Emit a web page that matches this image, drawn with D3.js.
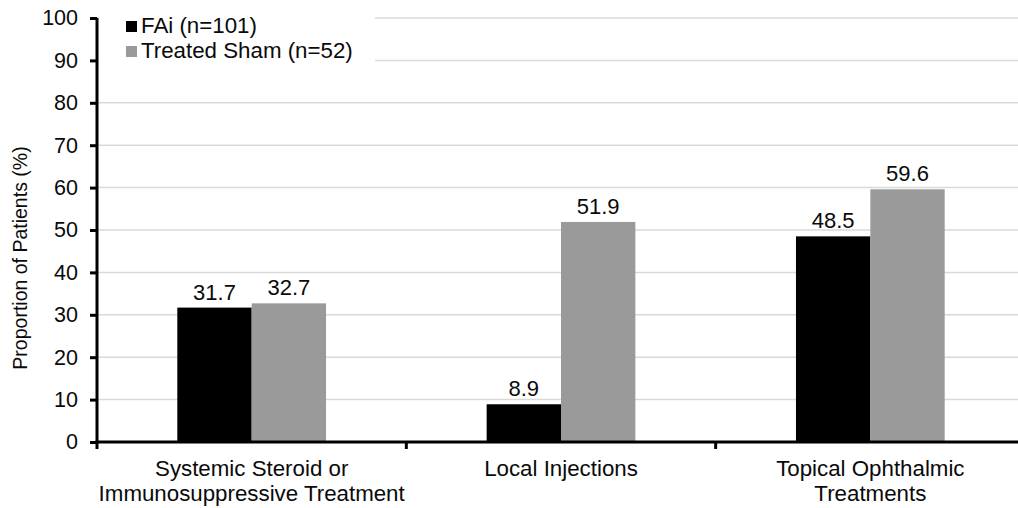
<!DOCTYPE html>
<html>
<head>
<meta charset="utf-8">
<script src="https://cdn.jsdelivr.net/npm/d3@7"></script>
<style>
  html, body { margin: 0; padding: 0; background: #fff; }
  svg { display: block; font-family: Arial, "Liberation Sans", sans-serif; }
</style>
</head>
<body>
<svg id="chart" width="1018" height="508"></svg>
<script>
// Treatment categories (two-line labels) and the percentage of patients per arm
const categories = ["Systemic Steroid or\nImmunosuppressive Treatment", "Local Injections", "Topical Ophthalmic\nTreatments"];
const seriesNames = ["FAi (n=101)", "Treated Sham (n=52)"];
const faiValues = [31.7, 8.9, 48.5];
const shamValues = [32.7, 51.9, 59.6];
const yTicks = [0, 10, 20, 30, 40, 50, 60, 70, 80, 90, 100];
const yTitle = "Proportion of Patients (%)";

const colors = ["#000000", "#9a9a9a"];
const textColor = "#0a0a0a";
const svg = d3.select("#chart");

const plotLeft = 97, plotRight = 1025, plotTop = 18, plotBottom = 442;

const y = d3.scaleLinear().domain([0, 100]).range([plotBottom, plotTop]);
const x0 = d3.scaleBand().domain(categories).range([plotLeft, plotRight]).paddingInner(0).paddingOuter(0);
const x1 = d3.scaleBand().domain(seriesNames).range([0, x0.bandwidth()]).paddingInner(0).paddingOuter(1.08);

const rows = categories.map((c, i) => ({ cat: c, values: [faiValues[i], shamValues[i]] }));

// horizontal gridlines
svg.append("g")
  .selectAll("line")
  .data(yTicks.filter(t => t > 0))
  .join("line")
  .attr("x1", plotLeft).attr("x2", 1018)
  .attr("y1", d => y(d)).attr("y2", d => y(d))
  .attr("stroke", "#d9d9d9").attr("stroke-width", 1.5);

// bars
const groups = svg.append("g").selectAll("g")
  .data(rows)
  .join("g")
  .attr("transform", d => `translate(${x0(d.cat)},0)`);

groups.selectAll("rect")
  .data(d => d.values.map((v, i) => ({ name: seriesNames[i], value: v, idx: i })))
  .join("rect")
  .attr("x", d => x1(d.name))
  .attr("width", x1.bandwidth())
  .attr("y", d => y(d.value))
  .attr("height", d => y(0) - y(d.value))
  .attr("fill", d => colors[d.idx]);

// value labels
groups.selectAll("text")
  .data(d => d.values.map((v, i) => ({ name: seriesNames[i], value: v })))
  .join("text")
  .attr("x", d => x1(d.name) + x1.bandwidth() / 2)
  .attr("y", d => y(d.value) - 8)
  .attr("text-anchor", "middle")
  .attr("font-size", 22)
  .attr("fill", textColor)
  .text(d => d.value.toFixed(1));

// y axis
const yAxis = svg.append("g")
  .attr("transform", `translate(${plotLeft},0)`)
  .call(d3.axisLeft(y).tickValues(yTicks).tickSize(7).tickPadding(12).tickFormat(d3.format("d")));
yAxis.select(".domain").attr("stroke", "#000").attr("stroke-width", 3)
  .attr("d", `M0,${plotTop}V${plotBottom + 1.5}`);
yAxis.selectAll(".tick line").attr("stroke", "#000").attr("stroke-width", 3);
yAxis.selectAll(".tick text").attr("font-size", 21.5).attr("fill", textColor).attr("font-family", "Arial, 'Liberation Sans', sans-serif");

// x axis
const xAxis = svg.append("g")
  .attr("transform", `translate(0,${plotBottom})`);
xAxis.append("line")
  .attr("x1", plotLeft - 1.5).attr("x2", 1018)
  .attr("y1", 0).attr("y2", 0)
  .attr("stroke", "#000").attr("stroke-width", 3);
xAxis.selectAll("line.tick")
  .data(categories.map(c => x0(c)))
  .join("line")
  .attr("class", "tick")
  .attr("x1", d => d).attr("x2", d => d)
  .attr("y1", 0).attr("y2", 7)
  .attr("stroke", "#000").attr("stroke-width", 3);

// category labels
const catLabels = xAxis.selectAll("text.cat")
  .data(categories)
  .join("text")
  .attr("class", "cat")
  .attr("text-anchor", "middle")
  .attr("font-size", 22.3)
  .attr("fill", textColor)
  .attr("transform", d => `translate(${x0(d) + x0.bandwidth() / 2},0)`);
catLabels.each(function(d) {
  const lines = d.split("\n");
  d3.select(this).selectAll("tspan")
    .data(lines)
    .join("tspan")
    .attr("x", 0)
    .attr("y", (l, i) => 34 + i * 25)
    .text(l => l);
});

// y axis title
svg.append("text")
  .attr("transform", `translate(27,${(plotTop + plotBottom) / 2 + 28}) rotate(-90)`)
  .attr("text-anchor", "middle")
  .attr("font-size", 19.5)
  .attr("fill", textColor)
  .text(yTitle);

// legend with white backing
const legend = svg.append("g");
legend.append("rect")
  .attr("x", plotLeft + 2).attr("y", 8).attr("width", 276).attr("height", 62)
  .attr("fill", "#fff");
seriesNames.forEach((name, i) => {
  legend.append("rect")
    .attr("x", 126).attr("y", 21 + i * 25).attr("width", 11).attr("height", 11)
    .attr("fill", colors[i]);
  legend.append("text")
    .attr("x", 141).attr("y", 33 + i * 25)
    .attr("font-size", 22.3)
    .attr("fill", textColor)
    .text(name);
});
</script>
</body>
</html>
